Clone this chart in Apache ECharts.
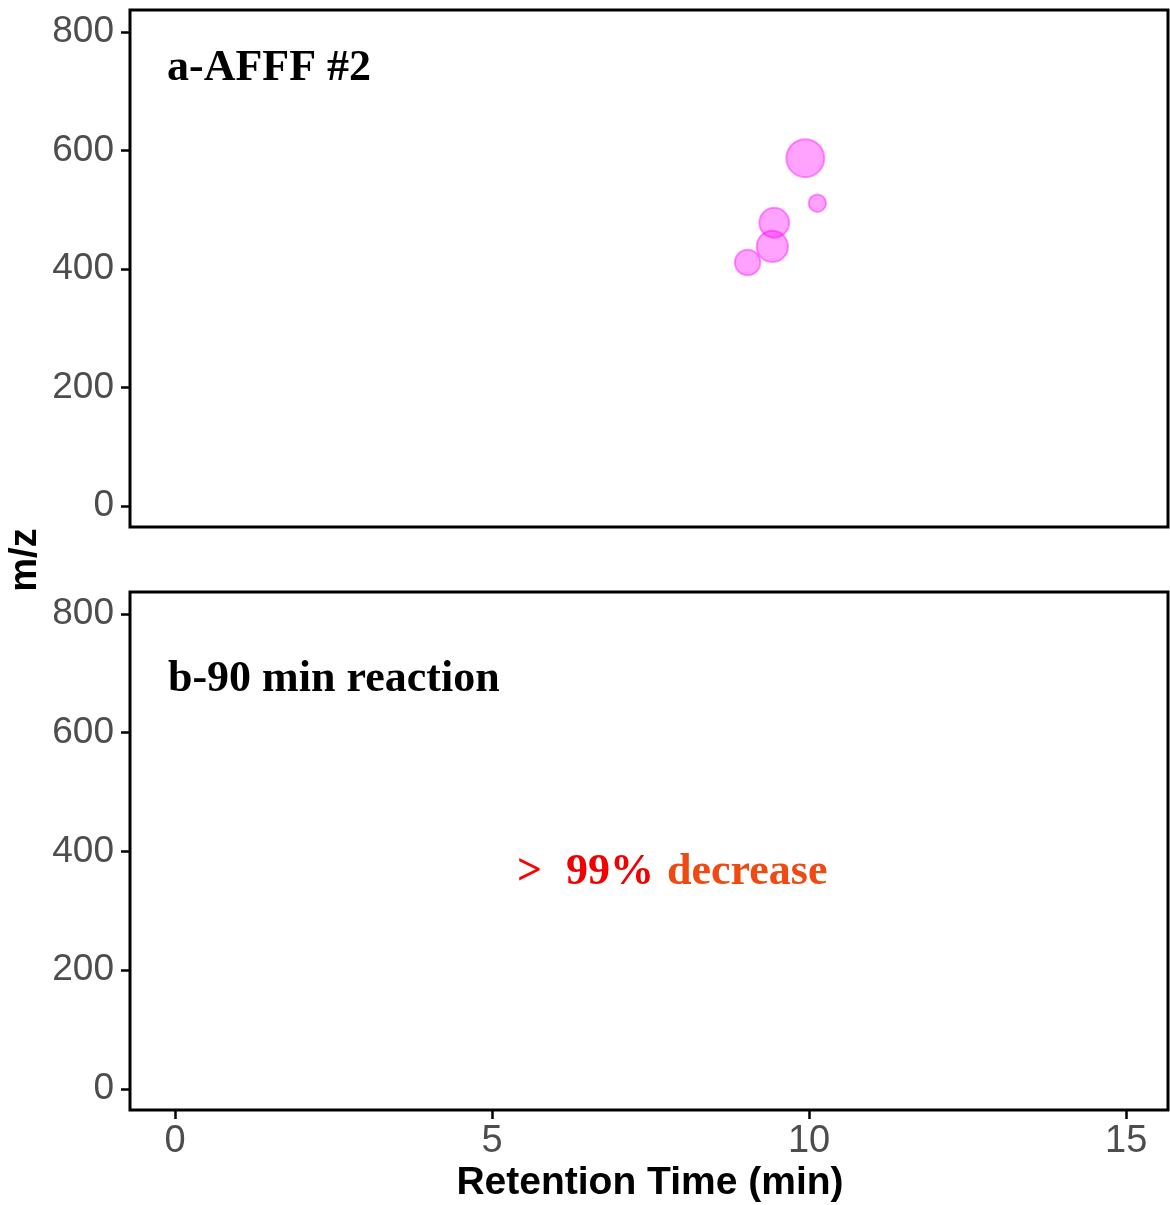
<!DOCTYPE html>
<html>
<head>
<meta charset="utf-8">
<script src="https://cdn.jsdelivr.net/npm/echarts@6/dist/echarts.min.js"></script>
<style>html,body{margin:0;padding:0;background:#fff;}#c{width:1170px;height:1205px;}</style>
</head>
<body>
<div id="c"></div>
<script>
// Panel a: AFFF #2 features
const retentionTime = [9.94, 10.13, 9.45, 9.42, 9.03];
const mzValues = [587, 511, 478, 438, 411];
const abundance = [1.00, 0.21, 0.62, 0.68, 0.45]; // relative
// Panel b: 90 min reaction (no detected features)
const retentionTimeB = [];
const mzValuesB = [];
const xTicks = [0, 5, 10, 15];
const yTicks = [0, 200, 400, 600, 800];
const panelLabels = ['a-AFFF #2', 'b-90 min reaction'];
const noteParts = ['>', '99%', 'decrease'];

const chart = echarts.init(document.getElementById('c'), null, {renderer: 'canvas'});
const dataA = retentionTime.map((x, i) => [x, mzValues[i], abundance[i]]);
const dataB = retentionTimeB.map((x, i) => [x, mzValuesB[i]]);

const gridCommon = {left: 130, width: 1038, show: true, borderColor: '#000', borderWidth: 3, backgroundColor: '#fff'};
const yAxisCommon = {
  type: 'value', min: -35.4, max: 837,
  axisLine: {show: false, onZero: false},
  splitLine: {show: false},
  axisTick: {show: true, length: 9, lineStyle: {color: '#000', width: 2.5}, customValues: yTicks},
  axisLabel: {color: '#4d4d4d', fontSize: 37, fontFamily: 'Liberation Sans, Arial', margin: 16, customValues: yTicks}
};
const xAxisCommon = {
  type: 'value', min: -0.71, max: 15.66,
  axisLine: {show: false, onZero: false},
  splitLine: {show: false}
};
const serif = 'bold 44px "Liberation Serif", "Times New Roman", serif';

chart.setOption({
  animation: false,
  backgroundColor: '#fff',
  grid: [
    Object.assign({top: 10, height: 517}, gridCommon),
    Object.assign({top: 592, height: 518}, gridCommon)
  ],
  xAxis: [
    Object.assign({gridIndex: 0, axisTick: {show: false}, axisLabel: {show: false}}, xAxisCommon),
    Object.assign({gridIndex: 1,
      axisTick: {show: true, length: 9, lineStyle: {color: '#000', width: 2.5}, customValues: xTicks},
      axisLabel: {color: '#4d4d4d', fontSize: 38, fontFamily: 'Liberation Sans, Arial', margin: 13, customValues: xTicks}
    }, xAxisCommon)
  ],
  yAxis: [
    Object.assign({gridIndex: 0}, yAxisCommon),
    Object.assign({gridIndex: 1}, yAxisCommon)
  ],
  series: [
    {
      type: 'scatter', xAxisIndex: 0, yAxisIndex: 0, data: dataA,
      symbolSize: d => 38 * Math.sqrt(d[2]),
      itemStyle: {color: 'rgba(255,0,255,0.45)', borderColor: 'rgba(255,0,255,0.5)', borderWidth: 2}
    },
    {
      type: 'scatter', xAxisIndex: 1, yAxisIndex: 1, data: dataB,
      itemStyle: {color: 'rgba(255,0,255,0.45)'}
    }
  ],
  graphic: [
    {type: 'text', x: 167, y: 69, style: {text: panelLabels[0], font: serif, fill: '#000', verticalAlign: 'middle'}},
    {type: 'text', x: 168, y: 680, style: {text: panelLabels[1], font: serif, fill: '#000', verticalAlign: 'middle'}},
    {type: 'text', x: 517, y: 873, style: {text: noteParts[0], font: serif, fill: '#ff0000', verticalAlign: 'middle'}},
    {type: 'text', x: 566, y: 873, style: {text: noteParts[1], font: serif, fill: '#f20000', verticalAlign: 'middle'}},
    {type: 'text', x: 667, y: 873, style: {text: noteParts[2], font: serif, fill: '#ee4a12', verticalAlign: 'middle'}},
    {type: 'text', x: 650, y: 1183, style: {text: 'Retention Time (min)', font: 'bold 39px "Liberation Sans", Arial, sans-serif', fill: '#000', align: 'center', verticalAlign: 'middle'}},
    {type: 'text', x: 26, y: 560, rotation: Math.PI / 2, style: {text: 'm/z', font: 'bold 38px "Liberation Sans", Arial, sans-serif', fill: '#000', align: 'center', verticalAlign: 'middle'}}
  ]
});
</script>
</body>
</html>
